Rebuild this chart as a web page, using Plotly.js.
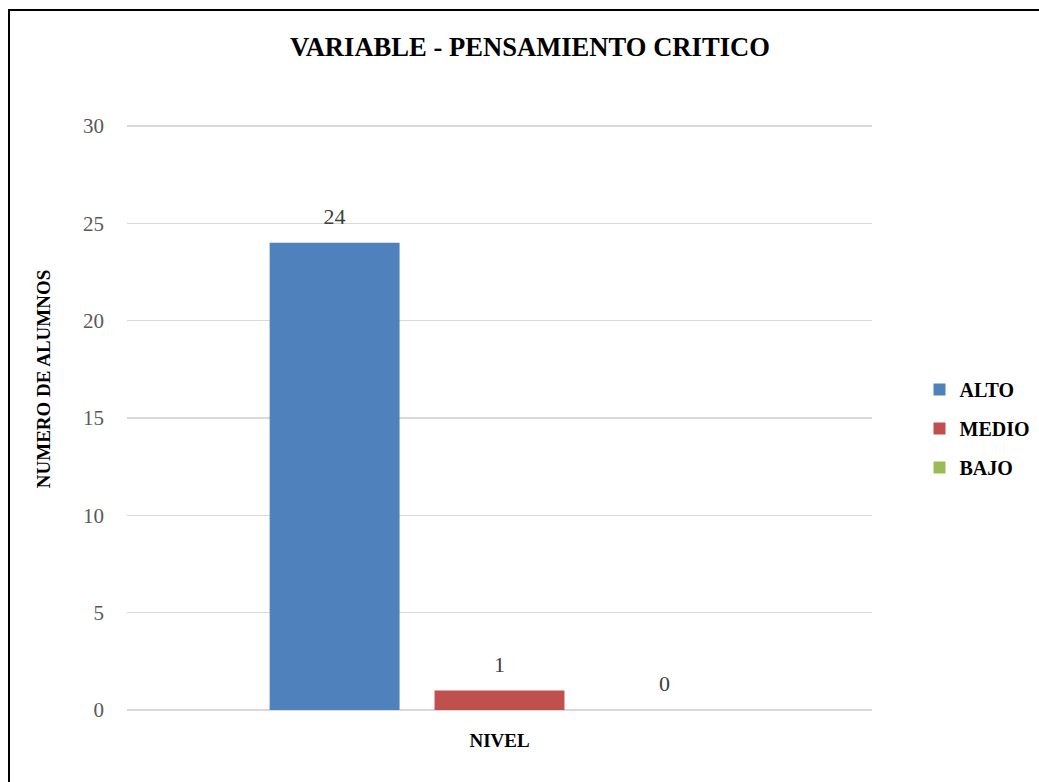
<!DOCTYPE html>
<html>
<head>
<meta charset="utf-8">
<script src="https://cdn.plot.ly/plotly-3.0.1.min.js"></script>
<style>
html,body{margin:0;padding:0;background:#fff;}
#frame{position:absolute;left:8px;top:9px;width:1100px;height:900px;border:2px solid #000;box-sizing:border-box;}
#chart{position:absolute;left:0;top:0;width:1039px;height:782px;}
</style>
</head>
<body>
<div id="frame"></div>
<div id="chart"></div>
<script>
const categories = ["NIVEL"];
const seriesNames = ["ALTO", "MEDIO", "BAJO"];
const seriesValues = [[24], [1], [0]];
const seriesColors = ["#4F81BD", "#C0504D", "#9BBB59"];
const yTicks = [0, 5, 10, 15, 20, 25, 30];

const serif = "Liberation Serif, Times New Roman, serif";

const bars = seriesNames.map((name, i) => ({
  type: "bar",
  name: name,
  x: categories,
  y: seriesValues[i],
  marker: {color: seriesColors[i]},
  offsetgroup: "s" + i,
  legendgroup: "g" + i,
  hoverinfo: "none"
}));

const labels = seriesNames.map((name, i) => ({
  type: "scatter",
  mode: "markers+text",
  name: name + " label",
  x: categories,
  y: seriesValues[i],
  text: seriesValues[i].map(v => String(v)),
  textposition: "top center",
  textfont: {family: serif, size: 22, color: "#404040"},
  marker: {size: 20, opacity: 0},
  offsetgroup: "s" + i,
  cliponaxis: false,
  showlegend: false,
  hoverinfo: "none"
}));

const layout = {
  width: 1039,
  height: 782,
  paper_bgcolor: "rgba(0,0,0,0)",
  plot_bgcolor: "rgba(0,0,0,0)",
  margin: {l: 127, r: 167, t: 124, b: 72, autoexpand: false},
  barmode: "group",
  scattermode: "group",
  bargap: 0.336,
  scattergap: 0.336,
  bargroupgap: 0.212,
  title: {
    text: "<b>VARIABLE - PENSAMIENTO CRITICO</b>",
    font: {family: serif, size: 26.6, color: "#000"},
    x: 0.51, xanchor: "center",
    y: 0.94, yanchor: "middle", yref: "container"
  },
  xaxis: {
    type: "category",
    showgrid: false,
    showline: false,
    zeroline: false,
    ticks: "",
    tickfont: {family: serif, size: 19, color: "#000", weight: "bold"},
    ticklabelstandoff: 17
  },
  yaxis: {
    range: [0, 30.1],
    tickvals: yTicks,
    showgrid: true,
    gridcolor: "#D9D9D9",
    gridwidth: 1.5,
    zeroline: true,
    zerolinecolor: "#D9D9D9",
    zerolinewidth: 1.5,
    showline: false,
    ticks: "",
    tickfont: {family: serif, size: 21, color: "#595959"},
    ticklabelstandoff: 22
  },
  annotations: [{
    text: "<b>NUMERO DE ALUMNOS</b>",
    xref: "paper", yref: "paper",
    x: -0.111, y: 0.565,
    xanchor: "center", yanchor: "middle",
    textangle: -90,
    showarrow: false,
    font: {family: serif, size: 19, color: "#000"}
  }],
  showlegend: true,
  legend: {
    xref: "container", yref: "container",
    x: 0.885, xanchor: "left",
    y: 0.452, yanchor: "middle",
    traceorder: "grouped",
    tracegroupgap: 10,
    font: {family: serif, size: 20, color: "#000", weight: "bold"},
    itemwidth: 30,
    bgcolor: "rgba(0,0,0,0)"
  }
};

Plotly.newPlot("chart", bars.concat(labels), layout, {displayModeBar: false, staticPlot: true});
</script>
</body>
</html>
